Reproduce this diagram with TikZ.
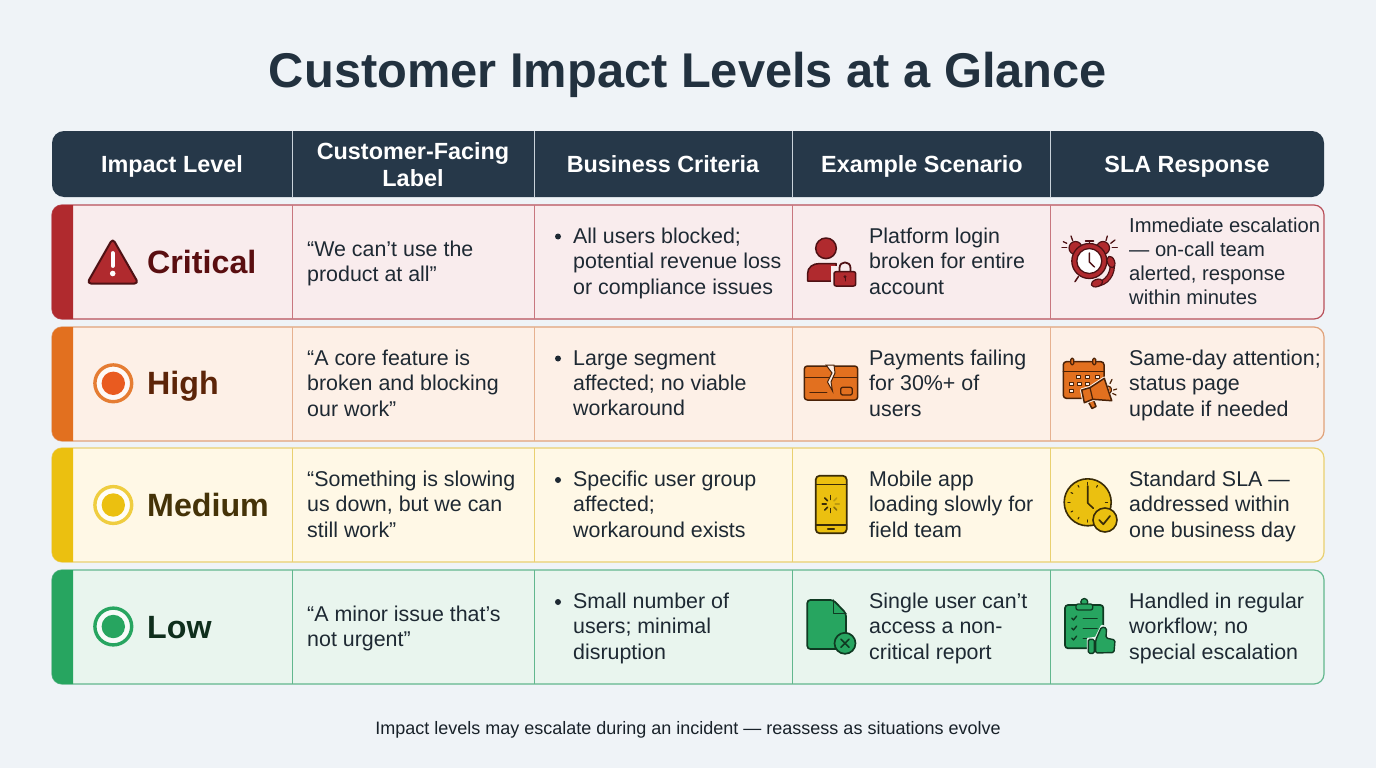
\documentclass[tikz,border=0pt]{standalone}
\usepackage{fontspec}
\setmainfont{Liberation Sans}

\definecolor{page_bg}{HTML}{EFF3F7}
\definecolor{head_bg}{HTML}{263849}
\definecolor{title_ink}{HTML}{22313F}
\definecolor{head_line}{HTML}{C9D2DA}
\definecolor{body_ink}{HTML}{1E2933}

\definecolor{crit_bar}{HTML}{B02A2E}
\definecolor{crit_bg}{HTML}{F9ECED}
\definecolor{crit_line}{HTML}{B8505A}
\definecolor{crit_ink}{HTML}{5A0E10}
\definecolor{crit_dark}{HTML}{4E1114}

\definecolor{high_bar}{HTML}{E2701F}
\definecolor{high_dot}{HTML}{E95B20}
\definecolor{high_bg}{HTML}{FDF0E7}
\definecolor{high_line}{HTML}{E0A27A}
\definecolor{high_ink}{HTML}{5C2408}
\definecolor{high_dark}{HTML}{4A2208}

\definecolor{med_bar}{HTML}{EBC010}
\definecolor{med_bg}{HTML}{FFF8E6}
\definecolor{med_line}{HTML}{E9D070}
\definecolor{med_ink}{HTML}{453308}
\definecolor{med_dark}{HTML}{3A2C08}

\definecolor{low_bar}{HTML}{27A560}
\definecolor{low_bg}{HTML}{E9F5EE}
\definecolor{low_line}{HTML}{62B78E}
\definecolor{low_ink}{HTML}{0F2E1C}
\definecolor{low_dark}{HTML}{0F3A22}

\begin{document}
\begin{tikzpicture}[
    x = 1pt,
    y = -1pt,
    line join=round,
    line cap=round,
    rowbox/.style = {rectangle, rounded corners=10pt, line width=1.2pt,
              minimum width=1272pt, minimum height=114pt, inner sep=0pt},
    headcell/.style = {font=\fontsize{23.4}{27}\selectfont\bfseries, text=white,
              align=center, inner sep=0pt, anchor=base},
    levelname/.style = {font=\fontsize{32.2}{36}\selectfont\bfseries, anchor=base west, inner sep=0pt},
    cell/.style = {font=\fontsize{21.4}{25.4}\selectfont, text=body_ink,
              align=left, anchor=west, inner sep=0pt, yshift=-1.4pt,
              execute at begin node={\vphantom{Ag}}, execute at end node={\vphantom{Ag}}},
    slacell/.style = {cell, font=\fontsize{20.2}{24}\selectfont},
    dot/.style = {circle, fill=body_ink, minimum size=6pt, inner sep=0pt, outer sep=0pt},
    ]

% page and title
\fill [page_bg] (0,0) rectangle (1376,768);
\node [font=\fontsize{48.8}{54}\selectfont\bfseries, text=title_ink, inner sep=0pt, anchor=base] (title) at (688,88) {Customer Impact Levels at a Glance};

% header
\node [rectangle, rounded corners=12pt, fill=head_bg, minimum width=1272pt, minimum height=66pt, inner sep=0pt] (head_row) at (688,164) {};
\draw [head_line, line width=0.9pt, line cap=butt] (292,131) -- (292,197);
\draw [head_line, line width=0.9pt, line cap=butt] (534,131) -- (534,197);
\draw [head_line, line width=0.9pt, line cap=butt] (792,131) -- (792,197);
\draw [head_line, line width=0.9pt, line cap=butt] (1050,131) -- (1050,197);
\node [headcell] (head_1) at (172,172.5) {Impact Level};
\node [headcell, anchor=center] (head_2) at (413,165) {Customer-Facing\\Label};
\node [headcell] (head_3) at (663,172.5) {Business Criteria};
\node [headcell] (head_4) at (922,172.5) {Example Scenario};
\node [headcell] (head_5) at (1187,172.5) {SLA Response};

% critical row
\node [rowbox, fill=crit_bg, draw=crit_line] (row_1) at (688,262) {};
\fill [crit_bar] (73,205) [rounded corners=10pt] -- (52,205) -- (52,319) [sharp corners] -- (73,319) -- cycle;
\draw [crit_line!75!crit_bg, line width=0.9pt, line cap=butt] (292,205) -- (292,319);
\draw [crit_line!75!crit_bg, line width=0.9pt, line cap=butt] (534,205) -- (534,319);
\draw [crit_line!75!crit_bg, line width=0.9pt, line cap=butt] (792,205) -- (792,319);
\draw [crit_line!75!crit_bg, line width=0.9pt, line cap=butt] (1050,205) -- (1050,319);
\draw [crit_dark, fill=crit_bar, line width=2pt, rounded corners=4pt] (112.7,238.5) -- (138.5,283.5) -- (87,283.5) -- cycle;
\draw [white!90!crit_bg, line width=3.8pt] (112.7,253) -- (112.7,266);
\fill [white!90!crit_bg] (112.7,273.5) circle (2.8);
\node [levelname, text=crit_ink] (level_1) at (147,273) {Critical};
\node [cell] (quote_1) at (307,262) {“We can’t use the\\product at all”};
\node [dot] (dot_1) at (558,236.5) {};
\node [cell] (crit_1) at (573,262) {All users blocked;\\potential revenue loss\\or compliance issues};
\node [cell] (scen_1) at (869,262) {Platform login\\broken for entire\\account};
\node [slacell] (sla_1) at (1129,262) {Immediate escalation\\— on-call team\\alerted, response\\within minutes};
% user with lock
\draw [crit_dark, fill=crit_bar, line width=1.5pt] (826,248.3) circle (10.3);
\draw [crit_dark, fill=crit_bar, line width=1.5pt] (807.5,281) -- (807.5,274) .. controls (807.5,267) and (813,263.5) .. (820,263.5) -- (836,263.5) -- (836,281) -- cycle;
\fill [crit_bg] (831,266) rectangle (858,289);
\draw [crit_dark, line width=1.8pt] (839.5,272) -- (839.5,268) .. controls (839.5,260.5) and (850.5,260.5) .. (850.5,268) -- (850.5,272);
\draw [crit_dark, fill=crit_bar, line width=1.5pt, rounded corners=2pt] (834,271.7) rectangle (855.7,286);
\fill [crit_dark] (845,276.7) circle (1.6);
\draw [crit_dark, line width=1pt] (845,277) -- (845,281);
% alarm clock with phone
\draw [crit_dark, line width=1.3pt] (1063.3,241.7) -- (1066.7,243.3);
\draw [crit_dark, line width=1.3pt] (1062,247.3) -- (1066.7,247.3);
\draw [crit_dark, line width=1.3pt] (1071,236) -- (1072.7,240.7);
\draw [crit_dark, line width=1.3pt] (1107.3,236) -- (1106,240.7);
\draw [crit_dark, line width=1.3pt] (1115,240) -- (1110.7,243.3);
\draw [crit_dark, line width=1.3pt] (1117.3,247.3) -- (1112.3,247.3);
\draw [crit_dark, line width=1.5pt] (1078.3,276.7) -- (1075,281.7);
\draw [crit_dark, fill=crit_bar, line width=1.2pt] (1075.5,248) circle (6.5);
\draw [crit_dark, fill=crit_bar, line width=1.2pt] (1103,248) circle (6.5);
\draw [crit_dark, line width=1.5pt] (1089.5,241.5) -- (1089.5,245);
\draw [crit_dark, line width=1.5pt] (1085.5,241) -- (1093.5,241);
\draw [crit_dark, fill=crit_bar, line width=1.3pt] (1089.3,261) circle (17.5);
\draw [crit_dark, fill=white, line width=1.3pt] (1089.3,261) circle (12.5);
\draw [crit_dark, line width=1.4pt] (1089.3,253) -- (1089.3,262) -- (1094.5,267);
\draw [crit_bg, line width=9pt] (1112,262) .. controls (1114,274) and (1106,284) .. (1096,284);
\draw [crit_dark, line width=5.5pt] (1112,262) .. controls (1114,274) and (1106,284) .. (1096,284);
\draw [crit_bar, line width=3pt] (1112,262) .. controls (1114,274) and (1106,284) .. (1096,284);
\draw [crit_dark, fill=crit_bar, line width=1.2pt, rotate around={20:(1111,262)}] (1111,262) ellipse (3.6 and 6);
\draw [crit_dark, fill=crit_bar, line width=1.2pt, rotate around={-70:(1097,283)}] (1097,283) ellipse (3.6 and 6);

% high row
\node [rowbox, fill=high_bg, draw=high_line] (row_2) at (688,384) {};
\fill [high_bar] (73,327) [rounded corners=10pt] -- (52,327) -- (52,441) [sharp corners] -- (73,441) -- cycle;
\draw [high_line!80!high_bg, line width=0.9pt, line cap=butt] (292,327) -- (292,441);
\draw [high_line!80!high_bg, line width=0.9pt, line cap=butt] (534,327) -- (534,441);
\draw [high_line!80!high_bg, line width=0.9pt, line cap=butt] (792,327) -- (792,441);
\draw [high_line!80!high_bg, line width=0.9pt, line cap=butt] (1050,327) -- (1050,441);
\draw [high_bar!90!high_bg, fill=white!65!high_bg, line width=3.4pt] (113.3,383.3) circle (18.4);
\fill [high_dot] (113.3,383.3) circle (11.7);
\node [levelname, text=high_ink] (level_2) at (147,394.5) {High};
\node [cell] (quote_2) at (307,384) {“A core feature is\\broken and blocking\\our work”};
\node [dot] (dot_2) at (558,358.5) {};
\node [cell] (crit_2) at (573,384) {Large segment\\affected; no viable\\workaround};
\node [cell] (scen_2) at (869,384) {Payments failing\\for 30\%+ of\\users};
\node [cell] (sla_2) at (1129,384) {Same-day attention;\\status page\\update if needed};
% broken card
\draw [high_dark, fill=high_bar, line width=1.5pt, rounded corners=3pt] (804.3,366) rectangle (857.7,400);
\fill [high_dark] (804.3,376.5) rectangle (857.7,378);
\draw [high_dark, line width=1.4pt] (810,392.7) -- (826.7,392.7);
\draw [high_dark, line width=1.3pt, rounded corners=2pt] (840.7,387.3) rectangle (852.3,395);
\draw [high_dark, fill=high_bg, line width=1pt, line join=miter] (826,365) -- (832,373) -- (827.5,382) -- (832.5,391) -- (831,382) -- (835,373) -- (834,365) -- cycle;
% calendar with megaphone
\draw [high_dark, fill=high_bar, line width=1.5pt, rounded corners=3pt] (1063.3,361.7) rectangle (1104,398.3);
\draw [high_dark, line width=1.5pt] (1063.3,371.7) -- (1104,371.7);
\draw [high_dark, fill=high_bar, line width=1.3pt, rounded corners=1.5pt] (1070.8,358) rectangle (1073.8,365);
\draw [high_dark, fill=high_bar, line width=1.3pt, rounded corners=1.5pt] (1092.8,358) rectangle (1095.8,365);
\draw [high_dark, fill=high_bg, line width=0.9pt] (1076.7,375) rectangle +(4,3);
\draw [high_dark, fill=high_bg, line width=0.9pt] (1085.7,375) rectangle +(4,3);
\draw [high_dark, fill=high_bg, line width=0.9pt] (1095,375) rectangle +(4,3);
\draw [high_dark, fill=high_bg, line width=0.9pt] (1069,382) rectangle +(4,3);
\draw [high_dark, fill=high_bg, line width=0.9pt] (1077.5,382) rectangle +(4,3);
\draw [high_dark, fill=high_bg, line width=0.9pt] (1085.7,382) rectangle +(4,3);
\draw [high_dark, fill=high_bg, line width=0.9pt] (1069,389) rectangle +(4,3);
\draw [high_dark, fill=high_bar, line width=1.5pt] (1088.3,401.7) -- (1092,408.5) -- (1096,406.5) -- (1093.5,400);
\draw [high_bg, line width=3.5pt] (1081.7,390) -- (1090,387.7) -- (1104.3,378.3) -- (1111.7,400.7) -- (1092.7,399.3) -- (1084.3,402.7) -- cycle;
\draw [high_dark, fill=high_bar, line width=1.5pt] (1081.7,390) -- (1090,387.7) -- (1104.3,378.3) -- (1111.7,400.7) -- (1092.7,399.3) -- (1084.3,402.7) -- cycle;
\draw [high_dark, line width=1.2pt] (1090,387.7) -- (1092.7,399.3);
\draw [high_dark, fill=high_bar, line width=1.1pt] (1108,386) .. controls (1112,386.5) and (1112.5,391) .. (1110,393);
\draw [high_dark, line width=1.2pt] (1110,383.5) -- (1112,379.5);
\draw [high_dark, line width=1.2pt] (1113.5,390) -- (1116.7,389);
\draw [high_dark, line width=1.2pt] (1112.7,393.5) -- (1116,395);

% medium row
\node [rowbox, fill=med_bg, draw=med_line] (row_3) at (688,505) {};
\fill [med_bar] (73,448) [rounded corners=10pt] -- (52,448) -- (52,562) [sharp corners] -- (73,562) -- cycle;
\draw [med_line, line width=0.9pt, line cap=butt] (292,448) -- (292,562);
\draw [med_line, line width=0.9pt, line cap=butt] (534,448) -- (534,562);
\draw [med_line, line width=0.9pt, line cap=butt] (792,448) -- (792,562);
\draw [med_line, line width=0.9pt, line cap=butt] (1050,448) -- (1050,562);
\draw [med_bar!80!white, fill=white!65!med_bg, line width=3.4pt] (113.3,505) circle (18.4);
\fill [med_bar] (113.3,505) circle (11.7);
\node [levelname, text=med_ink] (level_3) at (147,516) {Medium};
\node [cell] (quote_3) at (307,505) {“Something is slowing\\us down, but we can\\still work”};
\node [dot] (dot_3) at (558,480) {};
\node [cell] (crit_3) at (573,505) {Specific user group\\affected;\\workaround exists};
\node [cell] (scen_3) at (869,505) {Mobile app\\loading slowly for\\field team};
\node [cell] (sla_3) at (1129,505) {Standard SLA —\\addressed within\\one business day};
% phone with spinner
\draw [med_dark, fill=med_bar, line width=1.7pt, rounded corners=4pt] (815.7,475.7) rectangle (846.7,533.3);
\draw [med_dark, line width=1.3pt] (815.7,484.3) -- (846.7,484.3);
\draw [med_dark, line width=1.3pt] (815.7,525) -- (846.7,525);
\draw [med_dark, line width=1.5pt] (827.7,529) -- (834.3,529);
\draw [med_dark, line width=1.5pt] (830.7,499.5) -- (830.7,495.5);
\draw [med_dark, line width=1.5pt] (827.5,500.8) -- (824.7,498);
\draw [med_dark, line width=1.5pt] (826.2,504) -- (822.2,504);
\draw [med_dark, line width=1.5pt] (827.5,507.2) -- (824.7,510);
\draw [med_dark, line width=1.5pt] (830.7,508.5) -- (830.7,512.5);
\draw [med_dark!55!med_bar, line width=1.5pt] (833.9,507.2) -- (836.7,510);
\draw [med_dark!25!med_bar, line width=1.5pt] (835.2,504) -- (839.2,504);
\draw [med_dark!25!med_bar, line width=1.5pt] (833.9,500.8) -- (836.7,498);
% clock with check
\draw [med_dark, fill=med_bar, line width=1.6pt] (1087.7,502.3) circle (23.5);
\draw [med_dark, line width=1.1pt] (1087.7,482.5) -- (1087.7,484.5);
\draw [med_dark, line width=1.1pt] (1087.7,520) -- (1087.7,522);
\draw [med_dark, line width=1.1pt] (1068,502.3) -- (1070,502.3);
\draw [med_dark, line width=1.1pt] (1105.5,502.3) -- (1107.5,502.3);
\draw [med_dark, line width=1.1pt] (1097.5,485.5) -- (1096.5,487.2);
\draw [med_dark, line width=1.1pt] (1078,485.5) -- (1079,487.2);
\draw [med_dark, line width=1.1pt] (1071,492.5) -- (1072.7,493.5);
\draw [med_dark, line width=1.1pt] (1071,512) -- (1072.7,511);
\draw [med_dark, line width=1.1pt] (1078,519) -- (1079,517.3);
\draw [med_dark, line width=1.6pt] (1087.7,486) -- (1087.7,503) -- (1093.3,508.3);
\draw [med_dark, fill=med_bar, line width=1.6pt] (1105,520) circle (12);
\draw [med_dark, line width=1.7pt] (1099.3,520) -- (1103.3,524.3) -- (1110,516);

% low row
\node [rowbox, fill=low_bg, draw=low_line] (row_4) at (688,627) {};
\fill [low_bar] (73,570) [rounded corners=10pt] -- (52,570) -- (52,684) [sharp corners] -- (73,684) -- cycle;
\draw [low_line, line width=0.9pt, line cap=butt] (292,570) -- (292,684);
\draw [low_line, line width=0.9pt, line cap=butt] (534,570) -- (534,684);
\draw [low_line, line width=0.9pt, line cap=butt] (792,570) -- (792,684);
\draw [low_line, line width=0.9pt, line cap=butt] (1050,570) -- (1050,684);
\draw [low_bar, fill=white!65!low_bg, line width=3.4pt] (113.3,626.5) circle (18.4);
\fill [low_bar] (113.3,626.5) circle (11.7);
\node [levelname, text=low_ink] (level_4) at (147,638) {Low};
\node [cell] (quote_4) at (307,627) {“A minor issue that’s\\not urgent”};
\node [dot] (dot_4) at (558,602) {};
\node [cell] (crit_4) at (573,627) {Small number of\\users; minimal\\disruption};
\node [cell] (scen_4) at (869,627) {Single user can’t\\access a non-\\critical report};
\node [cell] (sla_4) at (1129,627) {Handled in regular\\workflow; no\\special escalation};
% document with cross
\draw [low_dark, fill=low_bar, line width=1.7pt, rounded corners=3pt] (807.3,600) -- (833.3,600) -- (846,613.3) -- (846,649) -- (807.3,649) -- cycle;
\draw [low_dark, line width=1.3pt] (833.3,600) -- (833.3,613.3) -- (846,613.3);
\draw [low_dark, fill=low_bar, line width=1.7pt] (845,643.3) circle (10.5);
\draw [low_dark, line width=1.6pt] (841,639.3) -- (849,647.3);
\draw [low_dark, line width=1.6pt] (849,639.3) -- (841,647.3);
% clipboard with thumb
\draw [low_dark, fill=low_bar, line width=1.7pt, rounded corners=3pt] (1065,605) rectangle (1103.3,648.3);
\draw [low_dark, fill=low_bar, line width=1.3pt] (1084.3,602) circle (3.5);
\draw [low_dark, fill=low_bar, line width=1.3pt, rounded corners=2pt] (1076,604) rectangle (1092.7,610);
\draw [low_dark, line width=1.3pt] (1071.7,618) -- (1073.5,620) -- (1076.7,616);
\draw [low_dark, line width=1.3pt] (1071.7,628) -- (1073.5,630) -- (1076.7,626);
\draw [low_dark, line width=1.3pt] (1071.7,638) -- (1073.5,640) -- (1076.7,636);
\draw [low_dark, line width=1.5pt] (1083.3,618.3) -- (1097,618.3);
\draw [low_dark, line width=1.5pt] (1083.3,628.3) -- (1097,628.3);
\draw [low_dark, line width=1.5pt] (1083.3,638.3) -- (1087,638.3);
\draw [low_bg, fill=low_bg, line width=2.5pt] (1088,639) -- (1096,638) -- (1102,626) -- (1108,628) -- (1107,638) -- (1116,640) -- (1115,654) -- (1088,654) -- cycle;
\draw [low_dark, fill=low_bar, line width=1.4pt, rounded corners=1.5pt] (1088.3,639.3) rectangle (1094.3,653.3);
\draw [low_dark, fill=low_bar, line width=1.4pt, rounded corners=1.5pt] (1095.7,640) -- (1101.5,627) -- (1106.5,628) -- (1106,638) -- (1115,640) -- (1114,652.5) -- (1095.7,653) -- cycle;

% footer
\node [font=\fontsize{18}{22}\selectfont, text=body_ink!80!black, inner sep=0pt, anchor=base] (footer) at (688,734) {Impact levels may escalate during an incident — reassess as situations evolve};

\end{tikzpicture}
\end{document}
